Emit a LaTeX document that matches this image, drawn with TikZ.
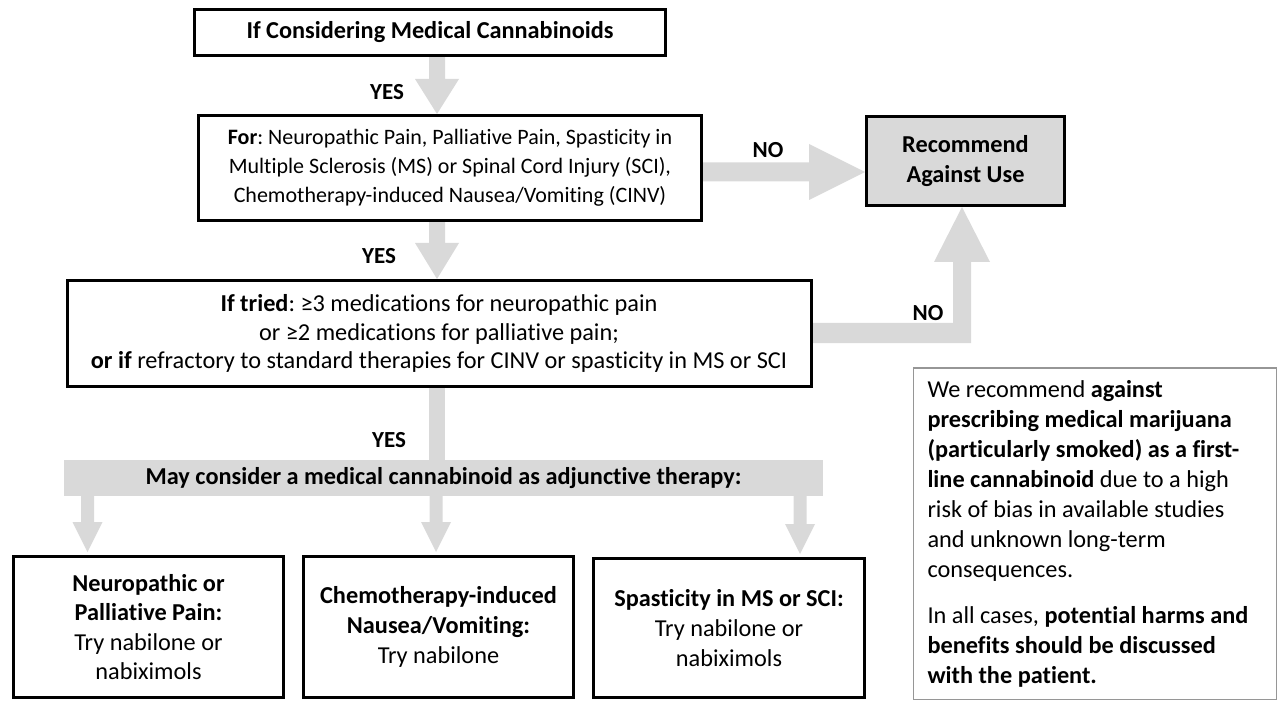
\documentclass[tikz,border=0pt]{standalone}
\usepackage{fontspec}
\setmainfont{Carlito}[Ligatures=CommonOff]
\usetikzlibrary{calc}
\definecolor{agray}{RGB}{217,217,217}
\definecolor{ngray}{RGB}{150,150,150}
\pgfdeclarelayer{bg}
\pgfsetlayers{bg,main}
% #1 start, #2 tip, #3 half shaft, #4 half head, #5 head length (downward arrow)
\newcommand{\downblock}[5]{%
  \fill[agray] ($#1+(-#3,0)$) -- ($#2+(-#3,-#5)$) -- ($#2+(-#4,-#5)$) -- #2
    -- ($#2+(#4,-#5)$) -- ($#2+(#3,-#5)$) -- ($#1+(#3,0)$) -- cycle;}
\begin{document}
\frenchspacing
\begin{tikzpicture}[x=1pt,y=-1pt,
  font=\fontsize{24.3}{29.6}\selectfont,
  box/.style={draw=black, line width=3pt, fill=white, align=center, inner sep=0pt},
  lbl/.style={font=\fontsize{23}{26}\selectfont\bfseries, inner sep=0pt},
  bartext/.style={fill=agray, inner sep=0pt, align=center, font=\fontsize{24.3}{28}\selectfont\bfseries},
  notebox/.style={draw=ngray, line width=1.5pt, fill=white, align=flush left, text width=335pt, inner xsep=14pt, inner ysep=0pt, font=\fontsize{24.3}{30}\selectfont}
]
\useasboundingbox (0,0) rectangle (1278,714);

% nodes
\node[box, minimum width=471pt, minimum height=46pt] (b1) at (430,32.5) {\textbf{If Considering Medical Cannabinoids}};
\node[box, minimum width=503pt, minimum height=105pt, font=\fontsize{22}{29}\selectfont] (b2) at (450,168)
  {\textbf{For}: Neuropathic Pain, Palliative Pain, Spasticity in\\Multiple Sclerosis (MS) or Spinal Cord Injury (SCI),\\Chemotherapy-induced Nausea/Vomiting (CINV)};
\node[box, fill=agray, minimum width=198pt, minimum height=89pt, font=\fontsize{24.3}{30}\selectfont] (rec) at (965.5,161)
  {\textbf{Recommend}\\\textbf{Against Use}};
\node[box, minimum width=744pt, minimum height=106pt, font=\fontsize{24.3}{28.5}\selectfont] (b3) at (439,333.5)
  {\textbf{If tried}: ≥3 medications for neuropathic pain\\or ≥2 medications for palliative pain;\\\textbf{or if} refractory to standard therapies for CINV or spasticity in MS or SCI};
\node[bartext, minimum width=759pt, minimum height=36pt] (bar) at (443.5,478)
  {May consider a medical cannabinoid as adjunctive therapy:};
\node[box, minimum width=270pt, minimum height=141pt] (bA) at (148.5,627)
  {\textbf{Neuropathic or}\\\textbf{Palliative Pain:}\\Try nabilone or\\nabiximols};
\node[box, minimum width=270pt, minimum height=141pt] (bB) at (438.5,627)
  {\textbf{Chemotherapy-induced}\\\textbf{Nausea/Vomiting:}\\Try nabilone};
\node[box, minimum width=271pt, minimum height=139pt] (bC) at (729,628)
  {\textbf{Spasticity in MS or SCI:}\\Try nabilone or\\nabiximols};
\node[notebox, minimum height=331.5pt] (note) at (1095,533.5)
  {We recommend \textbf{against}\\\textbf{prescribing medical marijuana}\\\textbf{(particularly smoked) as a first-}\\\textbf{line cannabinoid} due to a high\\risk of bias in available studies\\and unknown long-term\\consequences.\\[16pt]In all cases, \textbf{potential harms and}\\\textbf{benefits should be discussed}\\\textbf{with the patient.}};

% labels
\node[lbl] (yes1) at (387,92) {YES};
\node[lbl] (yes2) at (379,256) {YES};
\node[lbl] (yes3) at (389,440) {YES};
\node[lbl] (no1) at (768,150) {NO};
\node[lbl] (no2) at (928,313) {NO};

% helper coordinates
\coordinate (ax) at (437,0);
\coordinate (ny1) at (0,172);
\coordinate (ny2) at (0,333);
\coordinate (nx2) at (962,0);
\coordinate (xa) at (87.5,0);
\coordinate (xb) at (436,0);
\coordinate (xc) at (800,0);
\coordinate (tA) at ($(bA.north -| xa)+(0,-3)$);
\coordinate (tB) at ($(bB.north -| xb)+(0,-3)$);
\coordinate (tC) at ($(bC.north -| xc)+(0,-3)$);

\begin{pgfonlayer}{bg}
  % YES arrows
  \downblock{(b1.south -| ax)}{(b2.north -| ax)}{8}{22}{35}
  \downblock{(b2.south -| ax)}{(b3.north -| ax)}{8}{22}{36}
  \fill[agray] ($(b3.south -| ax)+(-8,0)$) rectangle ($(bar.north -| ax)+(8,0)$);
  % bottom arrows
  \downblock{(bar.south -| xa)}{(tA)}{6.5}{15}{30}
  \downblock{(bar.south -| xb)}{(tB)}{6.5}{15}{30}
  \downblock{(bar.south -| xc)}{(tC)}{6.5}{15}{30}
  % NO arrow 1 (right)
  \fill[agray] ($(b2.east |- ny1)+(0,-9.5)$) -- ($(rec.west |- ny1)+(-56,-9.5)$)
    -- ($(rec.west |- ny1)+(-56,-28)$) -- (rec.west |- ny1)
    -- ($(rec.west |- ny1)+(-56,28)$) -- ($(rec.west |- ny1)+(-56,9.5)$)
    -- ($(b2.east |- ny1)+(0,9.5)$) -- cycle;
  % NO arrow 2 (right then up)
  \fill[agray] ($(b3.east |- ny2)+(0,-10)$) -- ($(nx2 |- ny2)+(-9,-10)$)
    -- ($(rec.south -| nx2)+(-9,55)$) -- ($(rec.south -| nx2)+(-28,55)$)
    -- (rec.south -| nx2) -- ($(rec.south -| nx2)+(28,55)$)
    -- ($(rec.south -| nx2)+(9,55)$) -- ($(nx2 |- ny2)+(9,10)$)
    -- ($(b3.east |- ny2)+(0,10)$) -- cycle;
\end{pgfonlayer}
\end{tikzpicture}
\end{document}
